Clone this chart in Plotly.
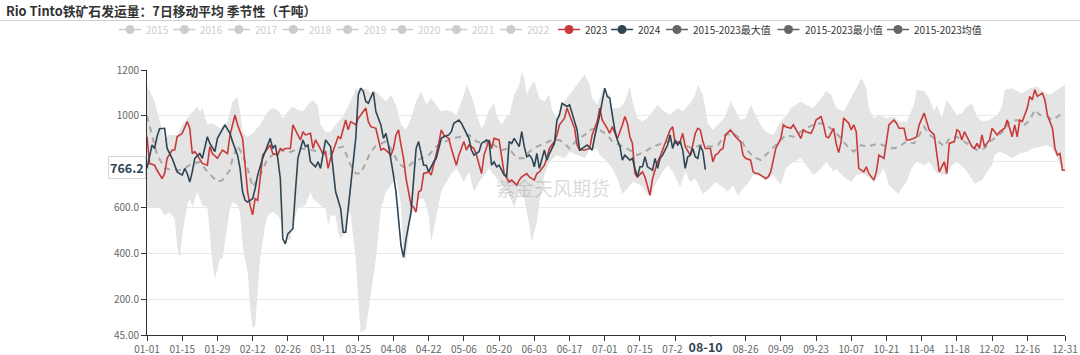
import datetime as dt
import plotly.graph_objects as go

# ---------------- data ----------------
DAY_LABELS = [(dt.date(2024, 1, 1) + dt.timedelta(days=d)).strftime("%m-%d") for d in range(366)]

TICK_LABELS = ["01-01", "01-15", "01-29", "02-12", "02-26", "03-11", "03-25", "04-08", "04-22",
               "05-06", "05-20", "06-03", "06-17", "07-01", "07-15", "07-29", "08-12", "08-26",
               "09-09", "09-23", "10-07", "10-21", "11-04", "11-18", "12-02", "12-16", "12-31"]

Y_TICKS = [45, 200, 400, 600, 800, 1000, 1200]
Y_TICK_TEXT = ["45.00", "200.0", "400.0", "600.0", "800.0", "1000", "1200"]

# (day index, value)  -- 2023
S2023 = [(0,910),(1,793),(3,785),(4,763),(6,727),(7,749),(8,815),(10,851),(11,851),(12,909),(14,924),(16,975),(17,946),(18,836),(19,844),(20,829),(22,793),(24,785),(25,866),(26,836),(28,815),(29,836),(30,851),(32,836),(33,917),(35,1004),(36,961),(38,902),(39,771),(40,669),(41,610),(42,569),(43,639),(44,632),(45,727),(46,829),(48,858),(49,873),(50,836),(52,829),(53,858),(54,851),(55,858),(57,858),(58,961),(59,939),(61,895),(62,931),(63,917),(65,924),(66,858),(67,895),(69,858),(70,836),(71,844),(72,771),(73,815),(75,873),(76,909),(77,902),(79,982),(80,939),(81,975),(83,961),(84,990),(85,1004),(87,1034),(88,975),(89,953),(91,946),(92,902),(93,851),(94,858),(95,851),(97,829),(98,858),(99,917),(100,939),(101,873),(102,815),(103,727),(105,610),(106,603),(107,581),(108,669),(109,676),(110,749),(112,756),(113,742),(115,829),(116,880),(117,939),(118,917),(120,902),(121,858),(123,785),(124,829),(126,888),(127,851),(128,873),(130,858),(131,829),(133,749),(134,829),(136,895),(137,858),(138,902),(140,895),(141,829),(142,749),(144,712),(145,720),(147,698),(148,720),(149,734),(151,749),(152,734),(154,720),(155,749),(156,756),(158,785),(159,815),(160,858),(162,888),(163,917),(164,961),(166,990),(167,1034),(168,1004),(170,946),(171,873),(172,851),(174,851),(176,858),(177,917),(179,975),(180,1034),(181,982),(183,946),(184,924),(185,953),(187,900),(189,960),(190,997),(191,968),(192,909),(193,880),(194,749),(195,734),(197,756),(198,734),(199,690),(200,654),(201,727),(203,800),(204,822),(205,851),(207,902),(208,939),(209,953),(210,880),(212,888),(213,924),(214,866),(216,829),(217,873),(218,924),(219,946),(220,939),(221,888),(222,858),(224,858),(225,800),(226,829),(227,836),(228,851),(229,858),(230,917),(232,939),(233,924),(234,909),(236,888),(237,829),(238,815),(240,807),(241,756),(242,749),(243,749),(244,742),(246,727),(247,734),(248,756),(249,807),(250,858),(252,902),(253,961),(254,953),(256,946),(257,961),(258,939),(260,902),(261,939),(262,931),(264,924),(265,946),(266,982),(268,997),(269,961),(270,909),(271,905),(273,946),(274,880),(275,840),(276,888),(277,990),(279,968),(280,939),(281,961),(282,931),(283,771),(285,756),(286,778),(287,749),(289,720),(290,756),(291,829),(293,815),(294,888),(295,961),(297,982),(298,968),(299,946),(301,946),(302,895),(303,895),(305,902),(306,909),(307,961),(309,1012),(310,975),(311,939),(313,917),(314,829),(315,756),(317,800),(318,749),(319,880),(321,888),(322,939),(323,931),(324,895),(325,931),(327,888),(328,866),(329,858),(330,880),(331,858),(332,917),(333,866),(335,895),(336,946),(338,917),(339,931),(341,946),(342,982),(344,909),(345,961),(346,909),(347,982),(348,975),(350,1034),(351,1085),(352,1070),(353,1114),(354,1085),(356,1099),(357,1070),(358,1004),(360,946),(361,858),(362,829),(363,836),(364,763),(365,763)]

# 2024
S2024 = [(0,771),(2,873),(3,858),(4,910),(5,944),(7,946),(8,858),(10,815),(12,756),(14,742),(15,771),(16,749),(17,712),(18,756),(19,815),(21,836),(22,815),(24,909),(25,880),(27,844),(28,902),(30,939),(31,961),(33,924),(34,888),(36,829),(37,771),(38,669),(39,632),(40,625),(42,639),(43,683),(44,742),(46,815),(49,902),(50,858),(51,873),(52,815),(53,727),(54,464),(55,442),(56,486),(58,508),(59,669),(60,815),(62,895),(63,866),(64,873),(65,800),(67,778),(68,800),(69,771),(71,895),(73,866),(74,771),(75,669),(77,596),(78,493),(79,493),(80,596),(81,712),(82,815),(83,902),(84,1092),(85,1121),(86,1107),(87,1063),(88,1055),(89,1077),(90,1105),(91,1019),(93,960),(94,902),(95,924),(96,873),(97,815),(98,742),(99,669),(100,566),(101,434),(102,384),(103,464),(105,581),(106,727),(107,858),(108,888),(110,785),(111,785),(112,756),(114,800),(115,815),(117,902),(118,909),(120,917),(121,931),(122,968),(124,982),(125,968),(126,946),(128,902),(129,851),(130,829),(132,844),(133,880),(135,895),(136,888),(137,785),(138,800),(139,778),(140,785),(142,742),(143,734),(144,888),(145,880),(146,902),(148,866),(149,931),(150,866),(151,822),(152,829),(153,815),(154,778),(155,836),(156,771),(158,851),(159,807),(160,836),(162,880),(163,982),(164,1004),(165,1055),(167,1041),(168,1048),(169,1012),(171,939),(172,851),(173,858),(175,873),(177,851),(178,909),(180,1004),(181,1070),(182,1121),(183,1085),(184,1077),(185,1004),(186,939),(187,895),(188,870),(189,807),(190,829),(192,807),(193,815),(194,771),(195,734),(196,778),(197,778),(198,822),(199,778),(201,763),(202,815),(203,771),(204,815),(205,829),(207,873),(208,917),(209,858),(210,895),(211,873),(212,888),(213,851),(214,771),(215,822),(216,829),(217,858),(218,822),(219,815),(220,870),(221,845),(222,766.2)]

# 2015-2023 max
S_MAX = [(0,1136),(1,1114),(3,1063),(4,1019),(7,902),(9,917),(12,917),(14,961),(17,1004),(20,1041),(21,1019),(22,1034),(24,961),(26,968),(29,946),(32,975),(34,1063),(36,1085),(37,1019),(38,931),(40,909),(42,924),(45,961),(48,1019),(50,1034),(52,1026),(54,990),(56,1019),(58,1041),(60,1026),(62,1019),(64,1048),(66,1070),(68,1041),(69,961),(71,931),(73,931),(75,961),(78,1000),(81,1063),(83,1121),(85,1107),(87,1121),(89,1099),(91,1107),(93,1085),(95,1063),(97,1092),(99,1048),(101,961),(103,939),(105,990),(107,1063),(109,1107),(110,1077),(111,1048),(113,1077),(115,1048),(117,1019),(119,1026),(121,1019),(123,1004),(126,1092),(127,1136),(128,1114),(130,1055),(131,1004),(133,946),(134,961),(136,1026),(138,1055),(139,1004),(141,961),(143,997),(144,1004),(146,1092),(148,1136),(149,1194),(150,1165),(151,1092),(152,1121),(154,1150),(155,1114),(156,1077),(158,1063),(160,1092),(161,1026),(163,990),(165,1048),(167,1077),(169,1107),(171,1136),(173,1165),(174,1180),(176,1136),(177,1077),(179,1048),(181,1107),(183,1085),(184,1100),(185,1034),(188,1034),(190,1063),(192,1128),(193,1063),(195,990),(197,975),(199,990),(201,1019),(203,1048),(205,1026),(208,1004),(211,1034),(213,1019),(216,1055),(218,1092),(219,1136),(221,1092),(222,1034),(223,968),(225,939),(227,961),(230,997),(232,1063),(234,1019),(236,982),(238,990),(240,1048),(242,1004),(244,961),(246,931),(249,917),(252,975),(254,997),(256,1034),(258,1048),(260,1063),(262,1048),(265,1034),(268,1077),(270,1107),(272,1092),(274,1034),(277,1019),(280,1077),(282,1121),(284,1165),(286,1121),(287,1034),(289,990),(291,1004),(294,990),(297,997),(299,975),(302,975),(305,1048),(306,1114),(309,1107),(311,1077),(313,1019),(314,1048),(316,990),(318,1070),(320,1034),(322,1004),(324,1012),(326,1041),(328,1055),(330,997),(332,975),(335,982),(338,1004),(340,1041),(341,1114),(344,1121),(346,1107),(348,1099),(351,1121),(354,1128),(356,1107),(359,1092),(362,1114),(365,1136)]

# 2015-2023 min
S_MIN = [(0,603),(2,596),(5,603),(7,566),(9,581),(11,552),(12,435),(13,377),(14,479),(16,610),(17,639),(18,603),(20,669),(21,639),(22,610),(24,603),(25,493),(26,362),(27,289),(29,377),(30,377),(32,523),(33,596),(34,625),(36,610),(37,581),(38,435),(40,318),(41,172),(42,77),(43,85),(44,231),(45,377),(47,523),(48,566),(50,581),(52,566),(54,523),(55,464),(57,457),(58,537),(60,596),(61,603),(63,610),(65,669),(66,639),(69,610),(71,596),(72,523),(73,566),(75,566),(76,493),(77,464),(79,493),(80,596),(81,566),(83,377),(84,201),(85,55),(87,70),(88,143),(89,216),(91,377),(93,596),(95,669),(97,698),(99,727),(101,610),(102,377),(103,377),(105,581),(107,581),(108,639),(110,639),(112,566),(113,450),(115,552),(117,669),(119,712),(121,749),(123,771),(126,712),(128,756),(130,669),(132,712),(134,742),(136,771),(139,727),(142,690),(144,654),(146,603),(148,669),(150,639),(152,523),(153,450),(155,537),(156,625),(158,742),(160,800),(163,829),(166,815),(168,844),(171,829),(174,815),(176,851),(179,858),(180,829),(183,800),(185,771),(187,727),(189,661),(191,683),(193,712),(195,705),(197,690),(200,647),(202,700),(205,756),(207,785),(209,756),(212,690),(214,756),(216,712),(218,727),(221,661),(223,676),(226,712),(228,698),(231,669),(233,698),(235,654),(237,683),(239,705),(241,742),(243,742),(246,720),(249,742),(252,698),(254,771),(257,800),(260,815),(262,785),(265,742),(268,771),(270,800),(273,756),(274,771),(277,734),(280,712),(282,742),(285,749),(289,712),(291,742),(293,771),(295,698),(297,676),(299,661),(300,683),(302,712),(304,771),(306,800),(309,785),(311,800),(314,750),(316,745),(318,742),(320,785),(322,800),(325,771),(327,742),(329,705),(332,720),(334,756),(336,785),(337,829),(339,844),(342,829),(344,815),(347,836),(350,844),(352,858),(355,866),(358,873),(360,858),(362,815),(364,763),(365,756)]

# 2015-2023 mean
S_MEAN = [(0,1000),(2,917),(4,830),(7,773),(10,764),(14,764),(17,786),(21,800),(24,756),(28,713),(30,720),(33,764),(34,815),(36,870),(38,830),(40,771),(42,690),(45,742),(48,815),(53,851),(56,840),(61,858),(65,850),(69,844),(72,822),(75,858),(78,866),(81,785),(83,749),(85,749),(89,844),(91,870),(95,888),(97,858),(100,793),(103,771),(106,800),(109,815),(112,829),(115,866),(121,902),(125,909),(128,917),(131,888),(134,880),(137,895),(138,873),(141,851),(144,858),(147,815),(150,815),(152,844),(155,866),(158,880),(161,895),(164,895),(166,880),(168,858),(171,895),(174,917),(176,939),(179,946),(181,930),(183,917),(185,888),(188,873),(192,851),(195,829),(199,851),(201,866),(205,880),(209,895),(212,880),(215,866),(217,858),(220,873),(224,866),(227,873),(230,917),(233,924),(236,902),(238,858),(241,822),(244,807),(246,829),(249,858),(252,895),(254,917),(257,909),(260,931),(262,946),(265,961),(268,968),(271,953),(273,935),(276,902),(278,873),(281,844),(284,873),(286,866),(289,873),(291,880),(294,866),(297,858),(299,866),(302,888),(305,880),(307,917),(309,953),(311,917),(314,895),(317,866),(319,902),(322,909),(325,888),(327,873),(330,851),(333,858),(335,888),(338,909),(341,939),(343,975),(346,982),(349,961),(351,982),(353,1026),(355,1004),(358,997),(360,982),(363,1004),(365,1019)]

LEGEND_NAMES = ["2015", "2016", "2017", "2018", "2019", "2020", "2021", "2022", "2023", "2024",
                "2015-2023最大值", "2015-2023最小值", "2015-2023均值"]
LEGEND_ACTIVE = [False] * 8 + [True] * 5

POINTER_DAY = "08-10"
POINTER_VALUE = 766.2

# ---------------- styles ----------------
C2023 = "#c9393a"
C2024 = "#2f4554"
CSTAT = "#666666"
CINACTIVE = "#cccccc"
BAND = "#e4e4e4"
FONT = "Noto Sans CJK SC"

W, H = 1080, 355
ML, MR, MT, MB = 147, 15, 70, 20
PW, PH = W - ML - MR, H - MT - MB


def px_x(px):
    return (px - ML) / PW


def px_y(py):
    return (H - MB - py) / PH


def split(series):
    return [d for d, _ in series], [v for _, v in series]


fig = go.Figure()

dx, dy = split(S_MAX)
fig.add_trace(go.Scatter(x=dx, y=dy, mode="lines", line=dict(width=0, color=BAND),
                         showlegend=False, hoverinfo="skip"))
dx, dy = split(S_MIN)
fig.add_trace(go.Scatter(x=dx, y=dy, mode="lines", line=dict(width=0, color=BAND),
                         fill="tonexty", fillcolor=BAND, showlegend=False, hoverinfo="skip"))
dx, dy = split(S_MEAN)
fig.add_trace(go.Scatter(x=dx, y=dy, mode="lines",
                         line=dict(width=2, color="#a8a8a8", dash="6px,5px"),
                         showlegend=False))
dx, dy = split(S2023)
fig.add_trace(go.Scatter(x=dx, y=dy, mode="lines", line=dict(width=1.6, color=C2023),
                         showlegend=False))
dx, dy = split(S2024)
fig.add_trace(go.Scatter(x=dx, y=dy, mode="lines", line=dict(width=1.6, color=C2024),
                         showlegend=False))

tick_vals = [DAY_LABELS.index(t) for t in TICK_LABELS]

shapes = []
annotations = []

# title + separator
annotations.append(dict(xref="paper", yref="paper", x=px_x(4), y=px_y(10), xanchor="left",
                        yanchor="middle", showarrow=False,
                        text="<b>Rio Tinto铁矿石发运量：7日移动平均 季节性（千吨）</b>",
                        font=dict(family=FONT, size=12.8, color="#333333")))
shapes.append(dict(type="line", xref="paper", yref="paper", x0=px_x(0), x1=px_x(W),
                   y0=px_y(20.5), y1=px_y(20.5), line=dict(color="#d0d0d0", width=1)))

# manual legend
legend_centers = [130 + k * 54.4 for k in range(8)] + [569, 622, 677, 788.5, 898]
legend_colors = [CINACTIVE] * 8 + [C2023, C2024, CSTAT, CSTAT, CSTAT]
ly = 29.5
for name, cx, col, active in zip(LEGEND_NAMES, legend_centers, legend_colors, LEGEND_ACTIVE):
    shapes.append(dict(type="line", xref="paper", yref="paper", x0=px_x(cx - 11), x1=px_x(cx + 11),
                       y0=px_y(ly), y1=px_y(ly), line=dict(color=col, width=1.5)))
    r = 4.5
    shapes.append(dict(type="circle", xref="paper", yref="paper", x0=px_x(cx - r), x1=px_x(cx + r),
                       y0=px_y(ly + r), y1=px_y(ly - r), fillcolor=col, line=dict(color=col, width=0)))
    annotations.append(dict(xref="paper", yref="paper", x=px_x(cx + 14), y=px_y(ly), xanchor="left",
                            yanchor="middle", showarrow=False, text=name,
                            font=dict(family=FONT, size=10,
                                      color="#333333" if active else CINACTIVE)))

# watermark
annotations.append(dict(xref="paper", yref="paper", x=px_x(553), y=px_y(187), xanchor="center",
                        yanchor="middle", showarrow=False, text="紫金天风期货",
                        font=dict(family=FONT, size=19, color="rgba(120,120,120,0.28)")))

# axis pointer labels
annotations.append(dict(xref="paper", yref="y", x=0, y=POINTER_VALUE, xanchor="right", yanchor="middle",
                        xshift=-1, yshift=2, showarrow=False, text=f"<b>{POINTER_VALUE}</b>",
                        font=dict(family=FONT, size=12.5, color=C2024), bgcolor="white",
                        bordercolor="#d6d6d6", borderwidth=1, borderpad=1))
annotations.append(dict(xref="x", yref="paper", x=DAY_LABELS.index(POINTER_DAY), y=px_y(346.5),
                        xanchor="center", yanchor="middle", showarrow=False,
                        text=f"&nbsp;&nbsp;<b>{POINTER_DAY}</b>&nbsp;&nbsp;",
                        font=dict(family=FONT, size=12.5, color=C2024), bgcolor="white", borderpad=0))

fig.update_layout(
    template="none",
    width=W, height=H, autosize=False,
    margin=dict(l=ML, r=MR, t=MT, b=MB, autoexpand=False),
    paper_bgcolor="white", plot_bgcolor="white",
    font=dict(family=FONT, size=10, color="#666666"),
    showlegend=False,
    hovermode=False,
    shapes=shapes,
    annotations=annotations,
    xaxis=dict(range=[0, 365], tickmode="array", tickvals=tick_vals, ticktext=TICK_LABELS,
               automargin=False,
               showline=True, linecolor="#333333", linewidth=1, ticks="outside", ticklen=5,
               tickcolor="#333333", showgrid=False, zeroline=False,
               tickfont=dict(family=FONT, size=10, color="#666666")),
    yaxis=dict(range=[45, 1200], tickmode="array", tickvals=Y_TICKS, ticktext=Y_TICK_TEXT,
               automargin=False,
               showline=True, linecolor="#333333", linewidth=1, ticks="outside", ticklen=5,
               tickcolor="#333333", showgrid=True, gridcolor="#e8e8e8", zeroline=False,
               tickfont=dict(family=FONT, size=10, color="#666666")),
)

fig.write_html("out.html", config={"displayModeBar": False},
               post_script="document.body.style.margin='0';document.body.style.padding='0';document.body.style.overflow='hidden';")
